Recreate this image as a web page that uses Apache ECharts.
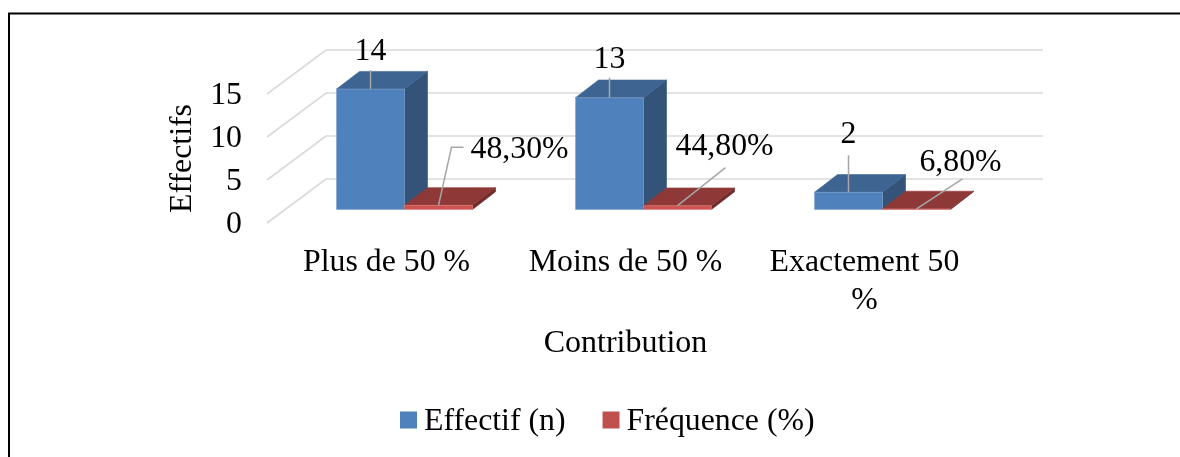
<!DOCTYPE html>
<html>
<head>
<meta charset="utf-8">
<script src="https://cdn.jsdelivr.net/npm/echarts@6/dist/echarts.min.js"></script>
<style>html,body{margin:0;padding:0;background:#fff}#c{width:1180px;height:457px}</style>
</head>
<body>
<div id="c"></div>
<script>
// ---- data ----
const categories = ['Plus de 50 %', 'Moins de 50 %', 'Exactement 50\n%'];
const effectif = [14, 13, 2];
const frequence = [48.3, 44.8, 6.8];
const yTicks = [0, 5, 10, 15];

// ---- layout of the pseudo-3D projection (pixels) ----
const FONT = '"Liberation Serif","Times New Roman",serif';
const FS = 31.8;
const WALL = [59, -44], OFF = [18, -13.5], DEPTH = [23, -17.7], BAR_W = 68;
// leader line points and label centre, relative to the top-front-centre of each bar
const blueLeader = [[[0, -19], [0, 0]], [[0, -20], [0, 0]], [[0, -37], [0, 0]]];
const blueLabel = [[0, -37], [0, -38], [0, -58]];
const redLeader = [[[0, 0], [13, -58], [25, -58]], [[0, 0], [48, -38]], [[0, 0], [46, -30]]];
const redLabel = [[81, -56], [47, -59], [44, -46]];

function poly(pts, fill, edge) {
  return { type: 'polygon', shape: { points: pts }, style: { fill, stroke: edge || fill, lineWidth: 0.6 } };
}
function bar3d(api, side, value, cols) {
  const c = api.coord([api.value(0), value]), b = api.coord([api.value(0), 0]);
  const x0 = c[0] + OFF[0] + (side < 0 ? -BAR_W : 0), x1 = x0 + BAR_W;
  const yT = c[1] + OFF[1], yB = b[1] + OFF[1];
  const dx = DEPTH[0], dy = DEPTH[1];
  return {
    anchor: [(x0 + x1) / 2, yT],
    shapes: [
      poly([[x1, yT], [x1 + dx, yT + dy], [x1 + dx, yB + dy], [x1, yB]], cols.side),
      poly([[x0, yT], [x0 + dx, yT + dy], [x1 + dx, yT + dy], [x1, yT]], cols.top),
      poly([[x0, yT], [x1, yT], [x1, yB], [x0, yB]], cols.front, cols.edge)
    ]
  };
}
function annot(anchor, leader, lab, text) {
  return [
    { type: 'polyline', z2: 50, shape: { points: leader.map(p => [anchor[0] + p[0], anchor[1] + p[1]]) },
      style: { stroke: '#A6A6A6', lineWidth: 1.5, fill: null } },
    { type: 'text', z2: 60, style: { text, x: anchor[0] + lab[0], y: anchor[1] + lab[1], align: 'center',
      verticalAlign: 'middle', font: FS + 'px ' + FONT, fill: '#000' } }
  ];
}
const blueCols = { front: '#4F81BD', top: '#3E6591', side: '#335379', edge: '#7FA3CF' };
const redCols = { front: '#CF5451', top: '#8E3937', side: '#6F2C2A', edge: '#D98280' };

const chart = echarts.init(document.getElementById('c'), null, { renderer: 'canvas' });
chart.setOption({
  animation: false,
  backgroundColor: '#fff',
  grid: { left: 267, top: 94, width: 717, height: 129 },
  graphic: [{ type: 'polyline', silent: true, shape: { points: [[9, 460], [9, 13.5], [1182, 13.5]] },
    style: { stroke: '#000', lineWidth: 2, fill: null } }],
  legend: {
    data: ['Effectif (n)', 'Fréquence (%)'], left: 395, top: 401, itemWidth: 17, itemHeight: 17, itemGap: 37,
    icon: 'rect', formatter: '{a|{name}}',
    textStyle: { fontFamily: FONT, fontSize: FS, color: '#000',
      rich: { a: { fontFamily: FONT, fontSize: FS, color: '#000', padding: [4, 0, 0, 2] } } }
  },
  xAxis: {
    type: 'category', data: categories, boundaryGap: true,
    axisLine: { show: false }, axisTick: { show: false }, splitLine: { show: false },
    axisLabel: { interval: 0, fontFamily: FONT, fontSize: FS, color: '#000', margin: 21, lineHeight: 38, verticalAlign: 'top' },
    name: 'Contribution', nameLocation: 'middle', nameGap: 105,
    nameTextStyle: { fontFamily: FONT, fontSize: 32, color: '#000' }
  },
  yAxis: {
    type: 'value', min: 0, max: 15, interval: 5,
    axisLine: { show: false }, axisTick: { show: false }, splitLine: { show: false },
    axisLabel: { fontFamily: FONT, fontSize: FS, color: '#000', margin: 25, verticalAlign: 'top', lineHeight: 4 },
    name: 'Effectifs', nameLocation: 'middle', nameGap: 68, nameRotate: 90,
    nameTextStyle: { fontFamily: FONT, fontSize: FS, color: '#000' }
  },
  series: [
    {
      type: 'custom', name: 'wall', silent: true, z: 1, clip: false,
      data: yTicks.map(v => [0, v]),
      encode: { x: 0, y: 1 },
      renderItem(params, api) {
        const p = api.coord([0, api.value(1)]), s = api.size([1, 0])[0];
        const x = p[0] - s / 2, y = p[1];
        return { type: 'polyline', shape: { points: [[x, y], [x + WALL[0], y + WALL[1]], [x + WALL[0] + s * 3, y + WALL[1]]] },
          style: { stroke: '#DADADA', lineWidth: 1.7, fill: null } };
      }
    },
    {
      type: 'custom', name: 'Effectif (n)', z: 2, clip: false,
      itemStyle: { color: '#4F81BD' },
      data: effectif.map((v, i) => [i, v]),
      encode: { x: 0, y: 1 },
      renderItem(params, api) {
        const i = params.dataIndex, b = bar3d(api, -1, api.value(1), blueCols);
        return { type: 'group', children: b.shapes.concat(annot(b.anchor, blueLeader[i], blueLabel[i], String(effectif[i]))) };
      }
    },
    {
      type: 'custom', name: 'Fréquence (%)', z: 3, clip: false,
      itemStyle: { color: '#C0504D' },
      data: frequence.map((v, i) => [i, v / 100]),
      encode: { x: 0, y: 1 },
      renderItem(params, api) {
        const i = params.dataIndex, b = bar3d(api, 1, api.value(1), redCols);
        return { type: 'group', children: b.shapes.concat(annot(b.anchor, redLeader[i], redLabel[i], frequence[i].toFixed(2).replace('.', ',') + '%')) };
      }
    }
  ]
});
</script>
</body>
</html>
